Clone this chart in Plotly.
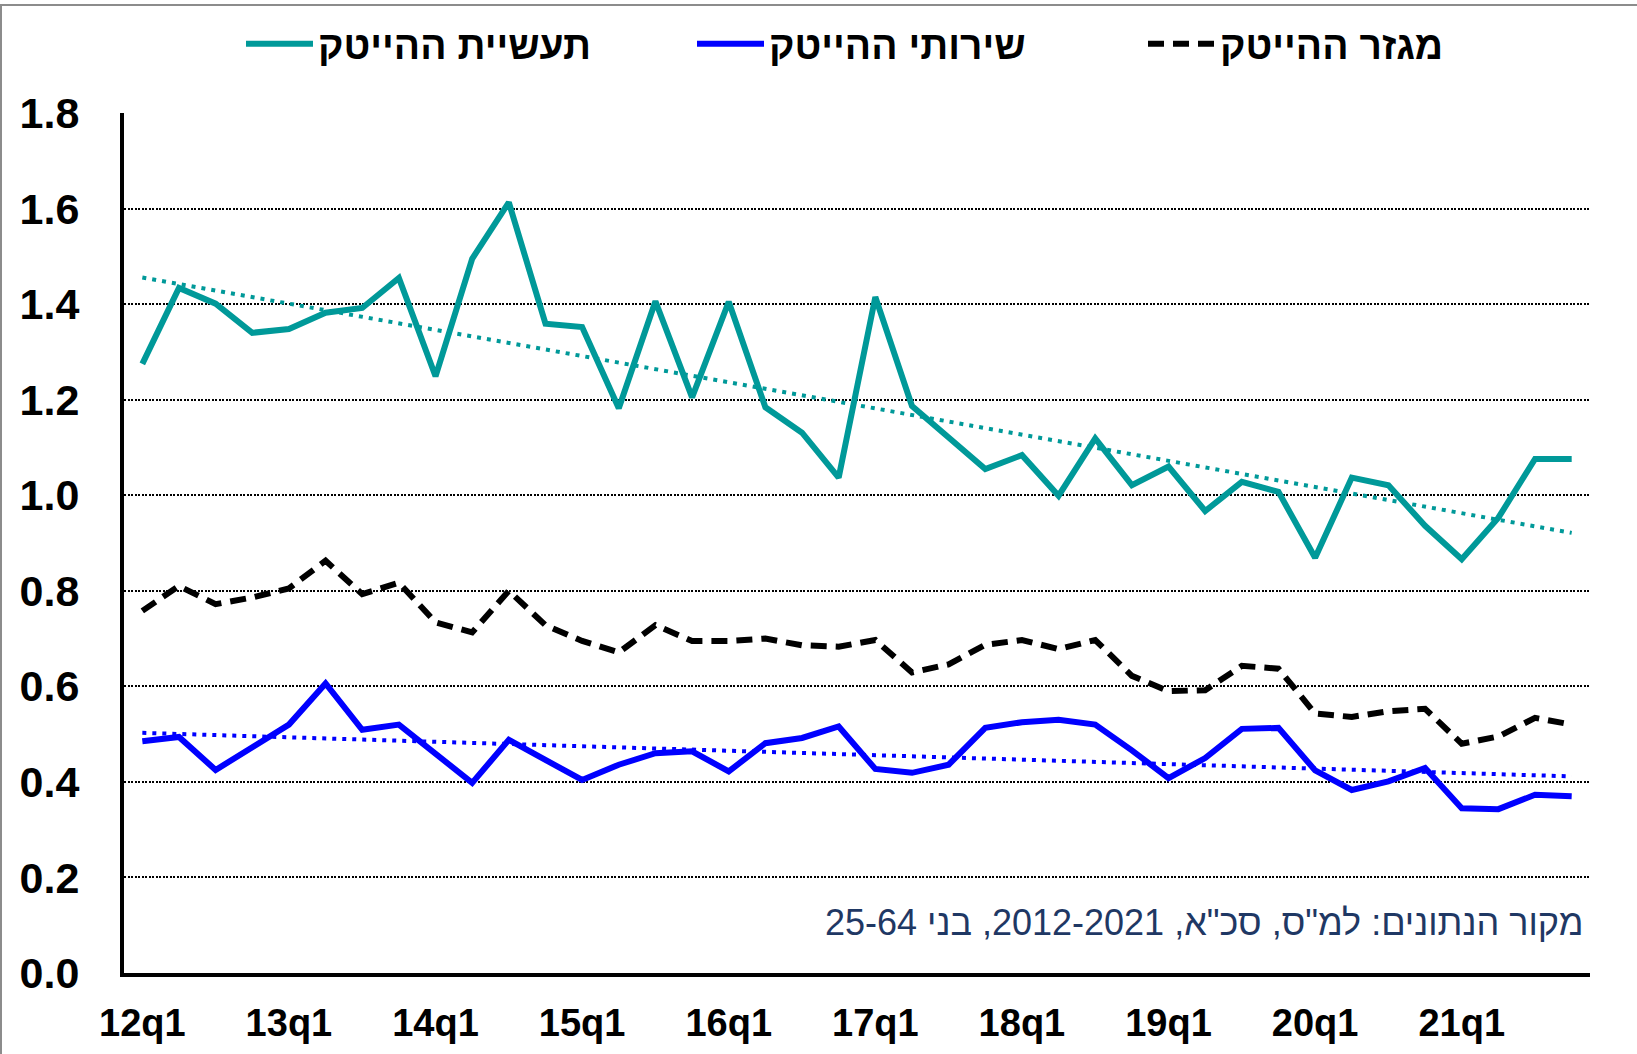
import numpy as np
import plotly.graph_objects as go

quarters = [
    "12q1", "12q2", "12q3", "12q4", "13q1", "13q2", "13q3", "13q4",
    "14q1", "14q2", "14q3", "14q4", "15q1", "15q2", "15q3", "15q4",
    "16q1", "16q2", "16q3", "16q4", "17q1", "17q2", "17q3", "17q4",
    "18q1", "18q2", "18q3", "18q4", "19q1", "19q2", "19q3", "19q4",
    "20q1", "20q2", "20q3", "20q4", "21q1", "21q2", "21q3", "21q4",
]
tick_labels = ["12q1", "13q1", "14q1", "15q1", "16q1", "17q1", "18q1", "19q1", "20q1", "21q1"]

industry = [
    1.275, 1.434, 1.401, 1.340, 1.348, 1.382, 1.392, 1.455,
    1.249, 1.495, 1.613, 1.359, 1.352, 1.182, 1.406, 1.205,
    1.405, 1.184, 1.131, 1.037, 1.415, 1.187, 1.121, 1.055,
    1.084, 0.999, 1.119, 1.021, 1.060, 0.967, 1.028, 1.007,
    0.869, 1.037, 1.021, 0.936, 0.866, 0.953, 1.076, 1.076,
]
services = [
    0.485, 0.494, 0.425, 0.474, 0.520, 0.606, 0.509, 0.520,
    0.457, 0.398, 0.488, 0.446, 0.404, 0.436, 0.460, 0.464,
    0.422, 0.481, 0.492, 0.516, 0.427, 0.419, 0.436, 0.513,
    0.525, 0.530, 0.520, 0.466, 0.408, 0.450, 0.511, 0.513,
    0.424, 0.383, 0.401, 0.429, 0.345, 0.343, 0.373, 0.370,
]
sector = [
    0.758, 0.810, 0.772, 0.786, 0.805, 0.863, 0.793, 0.817,
    0.734, 0.713, 0.800, 0.728, 0.695, 0.671, 0.728, 0.695,
    0.695, 0.700, 0.686, 0.683, 0.697, 0.629, 0.646, 0.687,
    0.697, 0.678, 0.697, 0.622, 0.590, 0.592, 0.643, 0.637,
    0.543, 0.536, 0.548, 0.553, 0.480, 0.495, 0.534, 0.520,
]

names = ["תעשיית ההייטק", "שירותי ההייטק", "מגזר ההייטק"]
source_text = "מקור הנתונים: למ\"ס, סכ\"א, 2012-2021, בני 25-64"

TEAL = "#009999"
BLUE = "#0000FF"
BLACK = "#000000"
FONT = "Arial, 'Liberation Sans', sans-serif"

W, H = 1637, 1054
L, R, T, B = 124, 47, 113, 81
PW, PH = W - L - R, H - T - B


def trend(vals):
    idx = np.arange(len(vals))
    a, b = np.polyfit(idx, np.array(vals), 1)
    return list(a * idx + b)


fig = go.Figure()
fig.add_trace(go.Scatter(x=quarters, y=industry, name=names[0], mode="lines",
                         line=dict(color=TEAL, width=6)))
fig.add_trace(go.Scatter(x=quarters, y=services, name=names[1], mode="lines",
                         line=dict(color=BLUE, width=6)))
fig.add_trace(go.Scatter(x=quarters, y=sector, name=names[2], mode="lines",
                         line=dict(color=BLACK, width=6, dash="16px,9px")))
fig.add_trace(go.Scatter(x=quarters, y=trend(industry), mode="lines", showlegend=False,
                         hoverinfo="skip", line=dict(color=TEAL, width=4, dash="4px,6px")))
fig.add_trace(go.Scatter(x=quarters, y=trend(services), mode="lines", showlegend=False,
                         hoverinfo="skip", line=dict(color=BLUE, width=4, dash="4px,6px")))

fig.add_annotation(text=source_text, xref="paper", yref="paper", x=(1585 - L) / PW,
                   y=(973 - 922) / PH, xanchor="right", yanchor="middle", showarrow=False,
                   font=dict(family=FONT, size=36, color="#1F3864"))

# chart-area frame (visible on top and left edges only)
top_y = (H - B - 5) / PH
fig.add_shape(type="line", xref="paper", yref="paper", x0=-L / PW, x1=(W - L) / PW,
              y0=top_y, y1=top_y, line=dict(color="#8C8C8C", width=2), layer="below")
fig.add_shape(type="line", xref="paper", yref="paper", x0=(1 - L) / PW, x1=(1 - L) / PW,
              y0=-B / PH, y1=top_y, line=dict(color="#8C8C8C", width=2), layer="below")

fig.update_layout(
    width=W, height=H,
    margin=dict(l=L, r=R, t=T, b=B, autoexpand=False),
    paper_bgcolor="white", plot_bgcolor="white",
    font=dict(family=FONT, color="black"),
    showlegend=True,
    legend=dict(orientation="h", x=(241 - L) / PW, y=(H - B - 44) / PH,
                xanchor="left", yanchor="middle",
                font=dict(family=FONT, size=39, color="black", weight="bold"),
                itemwidth=67, entrywidth=369, entrywidthmode="pixels",
                bgcolor="rgba(0,0,0,0)"),
    xaxis=dict(type="category", range=[-0.5, 39.5], tickmode="array", tickvals=tick_labels,
               ticktext=tick_labels, showgrid=False, showline=True, linecolor="black",
               linewidth=4, ticks="", ticklabelstandoff=13, automargin=False,
               tickfont=dict(family=FONT, size=38, color="black", weight="bold")),
    yaxis=dict(range=[0, 1.8001], dtick=0.2, tick0=0, tickformat=".1f", showgrid=True,
               gridcolor="black", gridwidth=1.5, griddash="2px,1.5px", showline=True,
               linecolor="black", linewidth=4, ticks="", zeroline=False,
               ticklabelstandoff=32, automargin=False,
               tickfont=dict(family=FONT, size=43, color="black", weight="bold")),
)

fig.write_html("out.html", config={"displayModeBar": False},
               post_script="document.body.style.margin='0';document.body.style.overflow='hidden';")
